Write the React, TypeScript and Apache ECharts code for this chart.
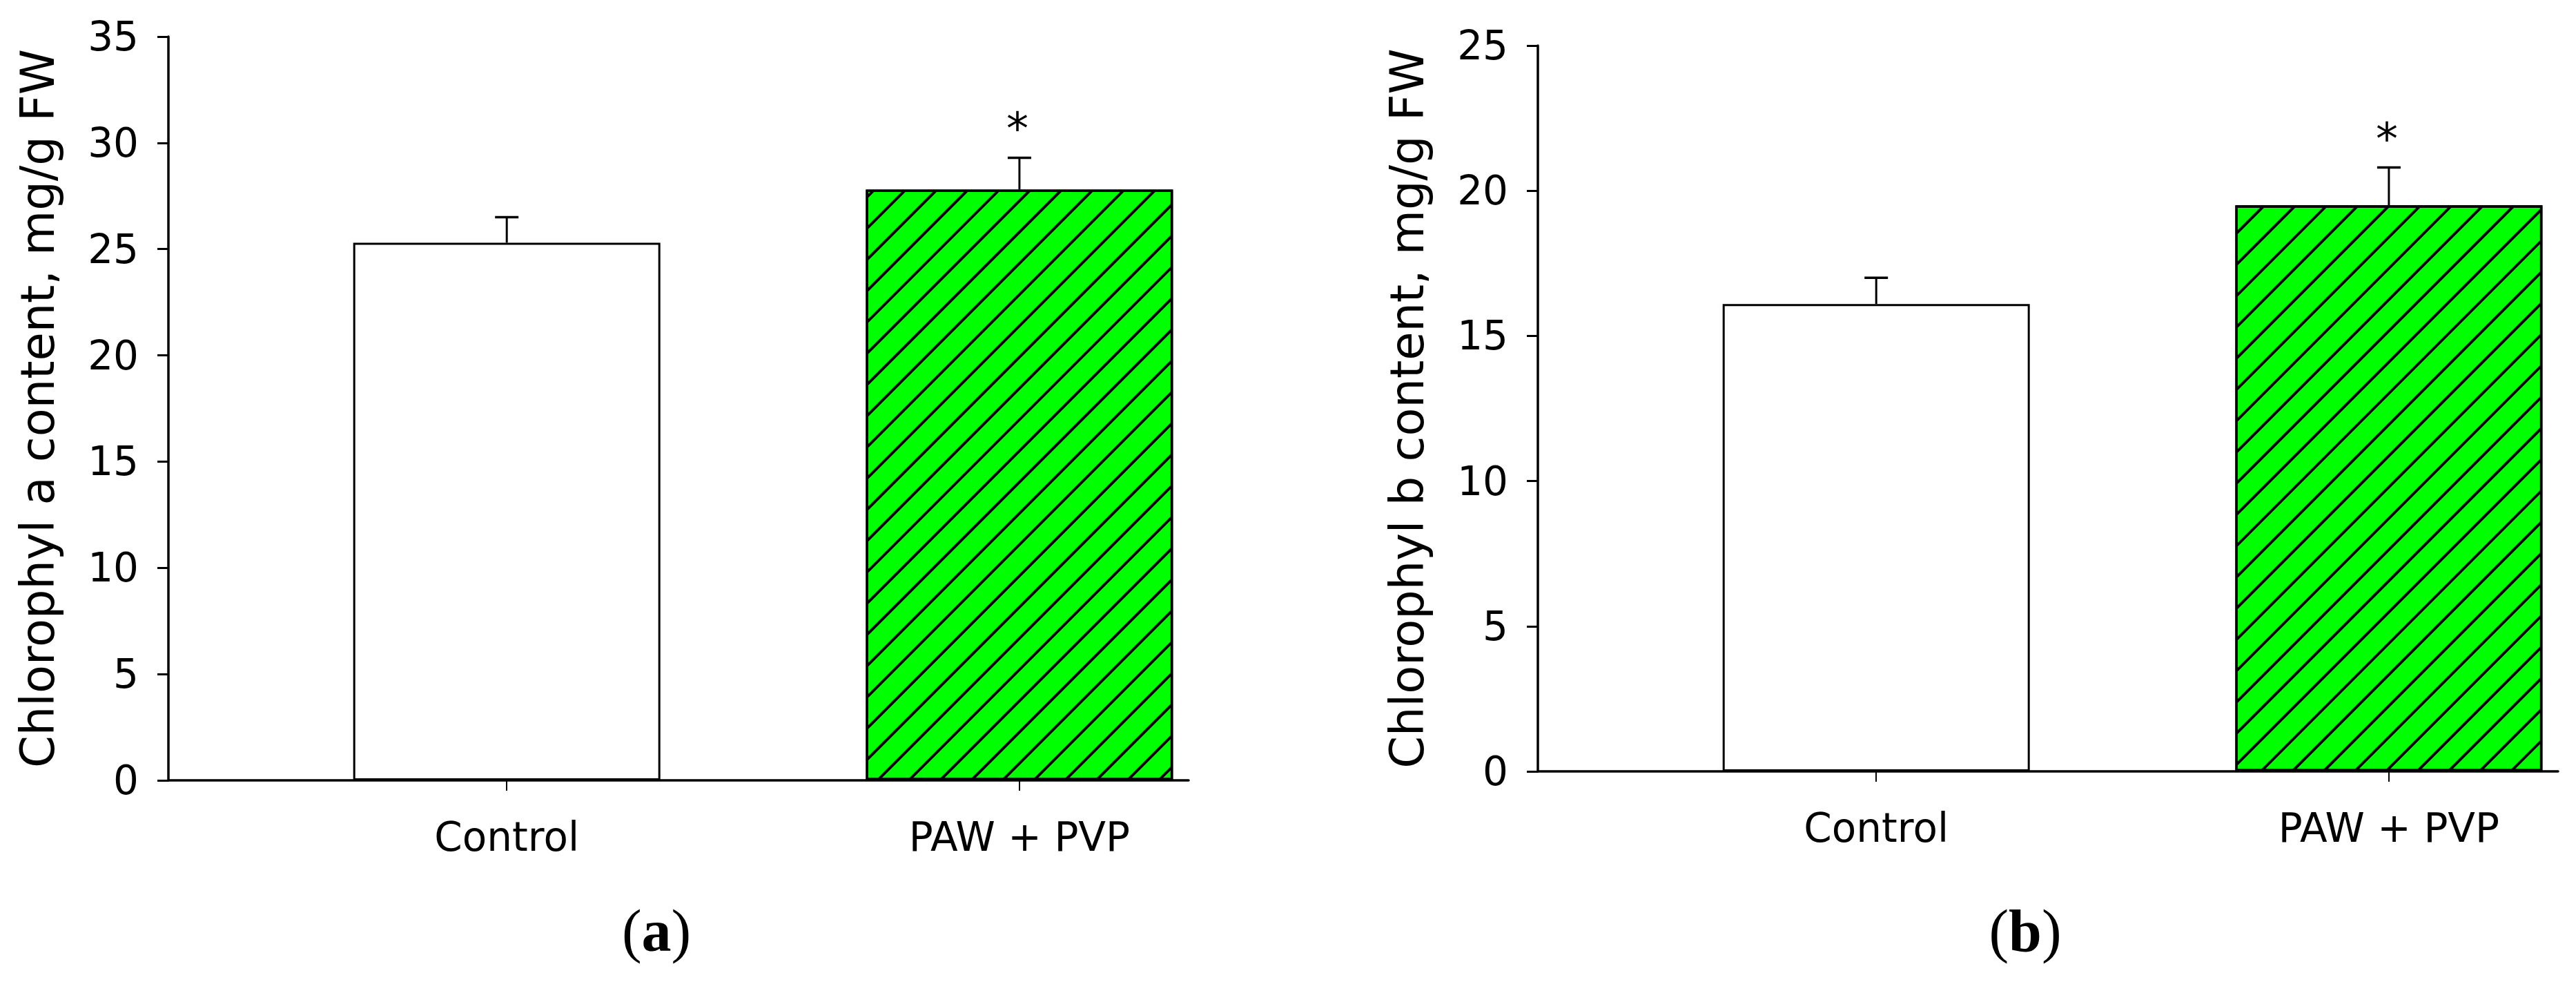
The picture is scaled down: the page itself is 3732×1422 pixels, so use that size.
import React, { useEffect, useRef } from 'react';
import * as echarts from 'echarts';

// ---- data ----
const categories = ['Control', 'PAW + PVP'];
const categoryPositions = [1, 2];
const chlA = [25.3, 27.8];
const chlAErr = [1.2, 1.5];
const chlB = [16.1, 19.5];
const chlBErr = [0.9, 1.3];
const significant = [0, 1];
const yMaxA = 35;
const yMaxB = 25;
const yInterval = 5;
const titleA = 'Chlorophyl a content, mg/g FW';
const titleB = 'Chlorophyl b content, mg/g FW';
const captionLetters = ['a', 'b'];

const FONT = 'DejaVu Sans';
const SERIF = 'Liberation Serif';

const plainStyle = { color: '#ffffff', borderColor: '#000', borderWidth: 3 };
const hatchStyle = {
  color: '#00ff00',
  borderColor: '#000',
  borderWidth: 3.5,
  decal: {
    symbol: 'rect',
    symbolSize: 1,
    dashArrayX: [1, 0],
    dashArrayY: [4, 28],
    rotation: -Math.PI / 4,
    color: '#000',
  },
};
const barStyles = [plainStyle, hatchStyle];

function makeAxes(gridIndex: number, yMax: number, title: string) {
  const xAxis = {
    type: 'value',
    gridIndex,
    min: 0.34,
    max: 2.33,
    axisLine: { show: true, onZero: false, lineStyle: { color: '#000', width: 3.5 } },
    axisTick: {
      show: true,
      customValues: categoryPositions,
      length: 15,
      lineStyle: { color: '#000', width: 2 },
    },
    axisLabel: {
      show: true,
      customValues: categoryPositions,
      formatter: (v: number) => {
        const i = categoryPositions.indexOf(Math.round(v));
        return i >= 0 ? categories[i] : '';
      },
      margin: 53,
      color: '#000',
      fontFamily: FONT,
      fontSize: 58,
    },
    splitLine: { show: false },
  };
  const yAxis = {
    type: 'value',
    gridIndex,
    min: 0,
    max: yMax,
    interval: yInterval,
    name: title,
    nameLocation: 'middle',
    nameRotate: 90,
    nameGap: 156,
    nameTextStyle: { color: '#000', fontFamily: FONT, fontSize: 67 },
    axisLine: { show: true, onZero: false, lineStyle: { color: '#000', width: 3.5 } },
    axisTick: { show: true, length: 16, lineStyle: { color: '#000', width: 3 } },
    axisLabel: { margin: 43, color: '#000', fontFamily: FONT, fontSize: 58 },
    splitLine: { show: false },
  };
  return { xAxis, yAxis };
}

function makeSeries(gridIndex: number, values: number[], errs: number[]) {
  const bar = {
    type: 'bar',
    xAxisIndex: gridIndex,
    yAxisIndex: gridIndex,
    barWidth: 445,
    data: values.map((v, j) => ({ value: [categoryPositions[j], v], itemStyle: barStyles[j] })),
  };
  const err = {
    type: 'custom',
    xAxisIndex: gridIndex,
    yAxisIndex: gridIndex,
    encode: { x: 0, y: 1 },
    z: 5,
    data: values.map((v, j) => [categoryPositions[j], v, errs[j], significant[j]]),
    renderItem: (params: any, api: any) => {
      const x = api.value(0);
      const v = api.value(1);
      const e = api.value(2);
      const sig = api.value(3);
      const base = api.coord([x, v]);
      const top = api.coord([x, v + e]);
      const children: any[] = [
        {
          type: 'line',
          shape: { x1: base[0], y1: base[1], x2: top[0], y2: top[1] },
          style: { stroke: '#000', lineWidth: 3 },
        },
        {
          type: 'line',
          shape: { x1: top[0] - 17, y1: top[1], x2: top[0] + 17, y2: top[1] },
          style: { stroke: '#000', lineWidth: 3.5 },
        },
      ];
      if (sig) {
        children.push({
          type: 'text',
          x: top[0] - 3,
          y: top[1] - 42,
          style: {
            text: '*',
            fill: '#000',
            fontFamily: FONT,
            fontSize: 64,
            align: 'center',
            verticalAlign: 'middle',
          },
        });
      }
      return { type: 'group', children };
    },
  };
  return [bar, err];
}

function caption(letter: string, cx: number) {
  return {
    type: 'text',
    x: cx,
    y: 1348,
    style: {
      text: `{p|(}{b|${letter}}{p|)}`,
      fontFamily: SERIF,
      fontSize: 86,
      fill: '#000',
      align: 'center',
      verticalAlign: 'middle',
      rich: {
        p: { fontFamily: SERIF, fontSize: 86, fill: '#000' },
        b: { fontFamily: SERIF, fontSize: 86, fontWeight: 'bold', fill: '#000' },
      },
    },
  };
}

export default function App() {
  const ref = useRef<HTMLDivElement>(null);
  useEffect(() => {
    if (!ref.current) return;
    const chart = echarts.init(ref.current, undefined, { renderer: 'svg' });
    const a = makeAxes(0, yMaxA, titleA);
    const b = makeAxes(1, yMaxB, titleB);
    chart.setOption({
      animation: false,
      backgroundColor: '#ffffff',
      grid: [
        { left: 244, top: 53, width: 1478, height: 1077 },
        { left: 2228, top: 66, width: 1478, height: 1051 },
      ],
      xAxis: [a.xAxis, b.xAxis],
      yAxis: [a.yAxis, b.yAxis],
      series: [...makeSeries(0, chlA, chlAErr), ...makeSeries(1, chlB, chlBErr)],
      graphic: [caption(captionLetters[0], 951), caption(captionLetters[1], 2934)],
    });
    return () => chart.dispose();
  }, []);
  return (
    <div
      ref={ref}
      style={{ position: 'fixed', left: 0, top: 0, width: 3732, height: 1422, background: '#fff' }}
    />
  );
}
